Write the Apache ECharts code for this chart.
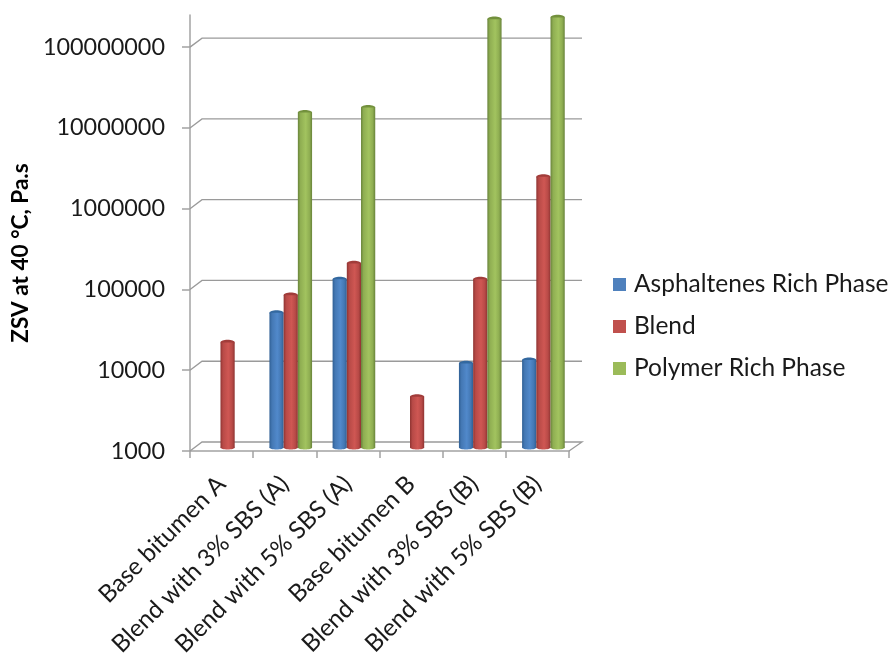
<!DOCTYPE html>
<html><head><meta charset="utf-8">
<style>html,body{margin:0;padding:0;background:#fff}#c{width:892px;height:654px}</style>
<script src="https://cdn.jsdelivr.net/npm/echarts@6/dist/echarts.min.js"></script>
</head><body><div id="c"></div>
<script>
var categories = ["Base bitumen A","Blend with 3% SBS (A)","Blend with 5% SBS (A)","Base bitumen B","Blend with 3% SBS (B)","Blend with 5% SBS (B)"];
var asphaltenes = [null,46600,121000,null,11000,12100];
var blend = [20000,77000,190000,4250,121000,2250000];
var polymer = [null,14000000,16200000,null,201000000,211000000];
var tickValues = [1000,10000,100000,1000000,10000000,100000000];
var axisMin = 1000, axisMax = 250000000;
var FONT = 'Lato';
var GRAY = '#a3a3a3';

function grad(edge, mid, light){
  return {type:'linear',x:0,y:0,x2:1,y2:0,colorStops:[
    {offset:0,color:edge},{offset:0.18,color:mid},{offset:0.55,color:light},{offset:0.82,color:mid},{offset:1,color:edge}]};
}
var looks = [
  {name:'Asphaltenes Rich Phase',data:asphaltenes,fill:grad('#2f5f94','#4478b4','#5189cb'),cap:'#33689f',key:'#4f81bd',pos:-1},
  {name:'Blend',data:blend,fill:grad('#8f3432','#b84a47','#cf5753'),cap:'#a13c3a',key:'#c0504d',pos:0},
  {name:'Polymer Rich Phase',data:polymer,fill:grad('#68833a','#8fae52','#a2c35f'),cap:'#72903c',key:'#9bbb59',pos:1}
];
var BAR_RATIO = 0.225;
var series = [];
looks.forEach(function(l){
  series.push({type:'bar',name:l.name,xAxisIndex:2,yAxisIndex:2,data:l.data,barWidth:'22.5%',barGap:'0%',
    itemStyle:{color:l.fill},z:3,silent:true});
  series.push({type:'custom',name:l.name+' caps',xAxisIndex:2,yAxisIndex:2,z:3,silent:true,
    data:l.data.map(function(v,i){return [i,v];}),
    encode:{x:0,y:1},
    renderItem:function(params,api){
      var v = l.data[api.value(0)];
      if(v==null) return null;
      var cw = params.coordSys.width/categories.length, w = cw*BAR_RATIO;
      var top = api.coord([api.value(0),v]), base = api.coord([api.value(0),axisMin]);
      var cx = top[0]+l.pos*w;
      return {type:'group',children:[
        {type:'ellipse',shape:{cx:cx,cy:base[1],rx:w/2,ry:2},style:{fill:l.fill}},
        {type:'ellipse',shape:{cx:cx,cy:top[1],rx:w/2,ry:2.6},style:{fill:l.cap}}
      ]};
    }});
});
// back wall gridlines and the short slanted connectors to the front axis
series.unshift({type:'custom',name:'wall',xAxisIndex:1,yAxisIndex:1,z:1,silent:true,
  data:tickValues.map(function(v){return [0,v];}),encode:{x:0,y:1},
  renderItem:function(params,api){
    var v = api.value(1), p = api.coord([0,v]), cs = params.coordSys;
    var x0 = cs.x, x1 = cs.x+cs.width, y = p[1];
    var pts = [[x0-12,y+9],[x0,y],[x1,y]];
    if(v===axisMin) pts.push([x1-13,y+9]);
    return {type:'polyline',shape:{points:pts},style:{stroke:'#9a9a9a',lineWidth:1.3,fill:null}};
  }});

var option = {
  backgroundColor:'#fff',
  animation:false,
  textStyle:{fontFamily:FONT},
  legend:{orient:'vertical',left:608,top:267,itemWidth:13,itemHeight:13,itemGap:17,
    icon:'rect',
    data:looks.map(function(l){return {name:l.name,itemStyle:{color:l.key}};}),
    textStyle:{fontFamily:FONT,fontSize:24.5,color:'#1a1a1a',padding:[0,0,0,3]},selectedMode:false},
  grid:[
    {left:190,width:379,top:15,height:436,outerBoundsMode:'none'},
    {left:202,width:380,top:6,height:436,outerBoundsMode:'none'},
    {left:196,width:379,top:11.5,height:436,outerBoundsMode:'none'}
  ],
  xAxis:[
    {gridIndex:0,type:'category',data:categories,
      axisLine:{lineStyle:{color:GRAY,width:1.5}},
      axisTick:{show:true,length:7,alignWithLabel:false,lineStyle:{color:GRAY,width:1.5}},
      axisLabel:{interval:0,rotate:45,margin:29,fontSize:24.3,fontFamily:FONT,color:'#1a1a1a'}},
    {gridIndex:1,type:'category',data:categories,show:false},
    {gridIndex:2,type:'category',data:categories,show:false}
  ],
  yAxis:[
    {gridIndex:0,type:'log',min:axisMin,max:axisMax,logBase:10,
      name:'ZSV at 40 °C, Pa.s',nameLocation:'middle',nameRotate:90,nameGap:158,
      nameTextStyle:{fontFamily:FONT,fontWeight:'bold',fontSize:22.6,color:'#000',padding:[0,40,0,0]},
      axisLine:{show:true,lineStyle:{color:GRAY,width:1.5}},
      axisTick:{show:true,length:8,customValues:tickValues,lineStyle:{color:GRAY,width:1.5}},
      axisLabel:{margin:25,fontSize:23.4,fontFamily:FONT,color:'#1a1a1a',customValues:tickValues,
        formatter:function(v){return String(Math.round(v));}},
      splitLine:{show:false}},
    {gridIndex:1,type:'log',min:axisMin,max:axisMax,logBase:10,show:false,splitLine:{show:false}},
    {gridIndex:2,type:'log',min:axisMin,max:axisMax,logBase:10,show:false,splitLine:{show:false}}
  ],
  series:series
};
echarts.init(document.getElementById('c'),null,{renderer:'canvas'}).setOption(option);
</script></body></html>
